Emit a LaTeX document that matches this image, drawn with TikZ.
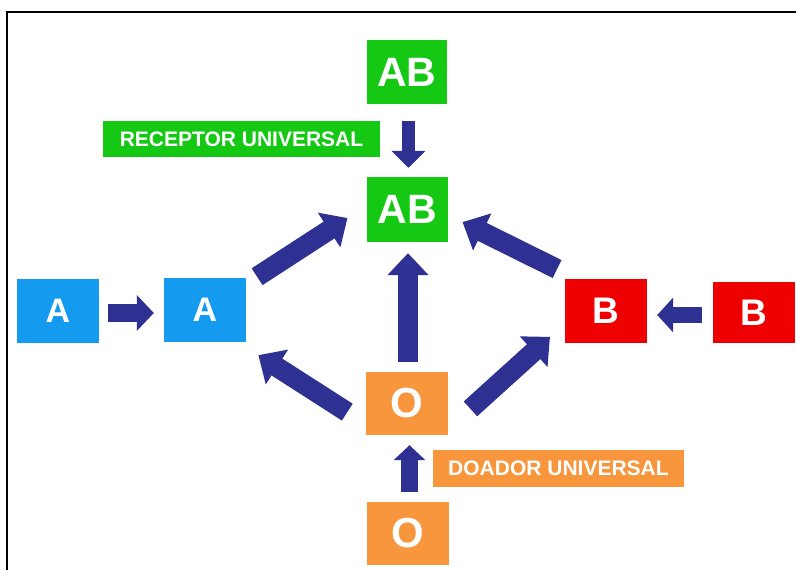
\documentclass[tikz,border=0pt]{standalone}
\usepackage{fontspec}
\setmainfont{Liberation Sans}
\usetikzlibrary{arrows.meta}
\definecolor{gr}{RGB}{20,200,20}
\definecolor{bl}{RGB}{20,155,240}
\definecolor{rd}{RGB}{238,0,0}
\definecolor{og}{RGB}{247,150,60}
\definecolor{ar}{RGB}{46,49,146}
\tikzset{
  box/.style={inner sep=0pt, text=white, font=\bfseries, minimum width=82pt, minimum height=64pt},
  lab/.style={inner sep=0pt, text=white, font=\bfseries\fontsize{21}{21}\selectfont},
  bigarrow/.style={draw=ar, line width=20pt, -{Triangle[length=22pt,width=40pt]}},
  smallarrow/.style={draw=ar, line width=16pt, -{Triangle[length=16pt,width=34pt]}},
}
\begin{document}
\begin{tikzpicture}[x=1pt,y=-1pt]
\useasboundingbox (0,0) rectangle (796,570);
\fill[white] (0,0) rectangle (796,570);
\draw[line width=2pt] (7,570) -- (7,12) -- (796,12);
% boxes
\node[box, fill=gr, minimum width=80pt, font=\bfseries\fontsize{41}{41}\selectfont] (ABt) at (407,72) {AB};
\node[box, fill=gr, minimum width=81pt, minimum height=65pt, font=\bfseries\fontsize{41}{41}\selectfont] (ABm) at (407.5,209.5) {AB};
\node[lab, fill=gr, minimum width=277pt, minimum height=36pt] (rec) at (241.5,139) {RECEPTOR UNIVERSAL};
\node[box, fill=bl, font=\bfseries\fontsize{34}{34}\selectfont] (A1) at (58,311) {A};
\node[box, fill=bl, font=\bfseries\fontsize{34}{34}\selectfont] (A2) at (205,310) {A};
\node[box, fill=rd, font=\bfseries\fontsize{37}{37}\selectfont] (B1) at (606,311) {B};
\node[box, fill=rd, minimum height=61pt, font=\bfseries\fontsize{37}{37}\selectfont] (B2) at (754,312.5) {B};
\node[box, fill=og, minimum height=63pt, font=\bfseries\fontsize{42}{42}\selectfont] (Om) at (407,403.5) {O};
\node[lab, fill=og, minimum width=251pt, minimum height=37pt] (doa) at (558.5,468.5) {DOADOR UNIVERSAL};
\node[box, fill=og, minimum height=63pt, font=\bfseries\fontsize{42}{42}\selectfont] (Ob) at (408,533.5) {O};
% arrows
\draw[draw=ar, line width=13pt, -{Triangle[length=17pt,width=33pt]}, shorten <=17pt, shorten >=9pt] ([xshift=1.5pt]ABt.south) -- ([xshift=1pt]ABm.north);
\draw[smallarrow, line width=18pt, -{Triangle[length=17pt,width=35pt]}, shorten <=9pt, shorten >=10pt] ([yshift=-2pt]A1.east) -- ([yshift=-3pt]A2.west);
\draw[smallarrow, shorten <=11pt, shorten >=10pt] ([yshift=-2.5pt]B2.west) -- ([yshift=-4pt]B1.east);
\draw[smallarrow, line width=17pt, -{Triangle[length=15pt,width=31pt]}, shorten <=10pt, shorten >=10pt] ([xshift=1.5pt]Ob.north) -- ([xshift=2.5pt]Om.south);
\draw[bigarrow, shorten <=10pt, shorten >=11pt] ([xshift=1pt]Om.north) -- ([xshift=0.5pt]ABm.south);
\draw[bigarrow, shorten <=13pt, shorten >=23pt] ([yshift=-6pt]A2.north east) -- ([yshift=4pt]ABm.west);
\draw[bigarrow, shorten <=22pt, shorten >=16pt] ([xshift=12pt]B1.north west) -- ([yshift=-5.5pt]ABm.east);
\draw[bigarrow, shorten <=22pt, shorten >=24pt] ([yshift=-20.5pt]Om.west) -- ([xshift=-8pt]A2.south east);
\draw[bigarrow, shorten <=30pt, shorten >=20pt] ([yshift=-25.5pt]Om.east) -- ([yshift=-12.5pt]B1.west);
\end{tikzpicture}
\end{document}
